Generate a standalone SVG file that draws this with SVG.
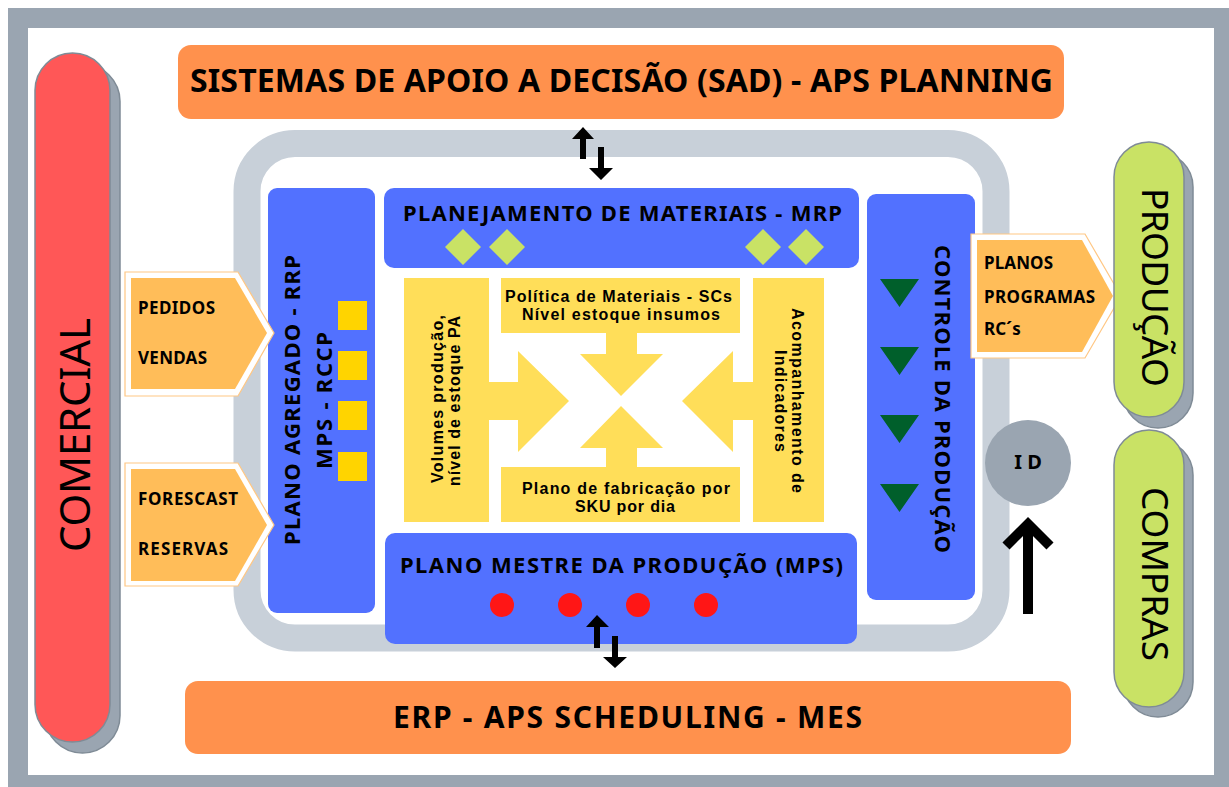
<svg xmlns="http://www.w3.org/2000/svg" width="1229" height="787" viewBox="0 0 1229 787">
<defs>
<style>
.t{font-family:"Noto Sans","Open Sans","DejaVu Sans",sans-serif;fill:#000;}
.l{font-family:"Liberation Sans",Arial,sans-serif;fill:#000;font-weight:bold;}
.b{font-weight:bold;}
.blue{fill:#5271ff;}
.org{fill:#ff914d;}
.pent{fill:#ffbd59;}
.pento{fill:#fff;stroke:#ffc784;stroke-width:1.2;}
.yel{fill:#ffde59;}
.sq{fill:#ffd400;}
.dia{fill:#c9e265;}
.tri{fill:#005f2b;}
.dot{fill:#ff1616;}
.shadow{fill:#9aa5b1;stroke:#7f8b96;stroke-width:1.5;}
.pillg{fill:#c9e265;stroke:#7f8b96;stroke-width:1.5;}
.pillr{fill:#ff5757;stroke:#7f8b96;stroke-width:1.5;}
.blk{fill:#000;}
</style>
</defs>
<rect x="0" y="0" width="1229" height="787" fill="#fff"/>
<g id="frame">
<rect x="8" y="8" width="1221" height="779" fill="#9aa5b1"/>
<rect x="28" y="28" width="1186" height="747" fill="#fff"/>
</g>
<g id="comercial">
<rect class="shadow" x="45" y="64" width="75" height="689" rx="37.5"/>
<rect class="pillr" x="35" y="53" width="75" height="689" rx="37.5"/>
<text class="t" transform="translate(90,552) rotate(-90)" font-size="42" textLength="234" lengthAdjust="spacing">COMERCIAL</text>
</g>
<g id="sad">
<rect class="org" x="178" y="45" width="886" height="74" rx="13"/>
<text class="t b" x="190" y="92" font-size="32" textLength="863" lengthAdjust="spacing">SISTEMAS DE APOIO A DECISÃO (SAD) - APS PLANNING</text>
</g>
<g id="erp">
<rect class="org" x="185" y="681" width="886" height="73" rx="13"/>
<text class="t b" x="393" y="728" font-size="30" textLength="469" lengthAdjust="spacing">ERP - APS SCHEDULING - MES</text>
</g>
<g id="ring">
<rect x="247" y="143.5" width="749" height="494.5" rx="48" fill="none" stroke="#c8d0d9" stroke-width="27"/>
</g>
<g id="plano-agregado">
<rect class="blue" x="268" y="188" width="107" height="425" rx="9"/>
<text class="t b" transform="translate(300,545) rotate(-90)" font-size="22" textLength="290" lengthAdjust="spacing">PLANO AGREGADO - RRP</text>
<text class="t b" transform="translate(332,469) rotate(-90)" font-size="22" textLength="137" lengthAdjust="spacing">MPS - RCCP</text>
<rect class="sq" x="338" y="301" width="29" height="29"/>
<rect class="sq" x="338" y="351" width="29" height="29"/>
<rect class="sq" x="338" y="401" width="29" height="29"/>
<rect class="sq" x="338" y="452" width="29" height="29"/>
</g>
<g id="mrp">
<rect class="blue" x="384" y="188" width="475" height="80" rx="10"/>
<text class="t b" x="403" y="221" font-size="22" textLength="439" lengthAdjust="spacing">PLANEJAMENTO DE MATERIAIS - MRP</text>
<path class="dia" d="M445,247 L463,229 L481,247 L463,265 Z M489,247 L507,229 L525,247 L507,265 Z M745,247 L763,229 L781,247 L763,265 Z M788,247 L806,229 L824,247 L806,265 Z"/>
</g>
<g id="mps">
<rect class="blue" x="385" y="533" width="472" height="111" rx="10"/>
<text class="t b" x="400" y="573" font-size="22" textLength="443" lengthAdjust="spacing">PLANO MESTRE DA PRODUÇÃO (MPS)</text>
<circle class="dot" cx="502" cy="605" r="12"/>
<circle class="dot" cx="570" cy="605" r="12"/>
<circle class="dot" cx="638" cy="605" r="12"/>
<circle class="dot" cx="706" cy="605" r="12"/>
</g>
<g id="controle">
<rect class="blue" x="867" y="194" width="108" height="406" rx="9"/>
<text class="t b" transform="translate(935,245) rotate(90)" font-size="22" textLength="308" lengthAdjust="spacing">CONTROLE DA PRODUÇÃO</text>
<path class="tri" d="M880,279 L919,279 L899.5,307 Z M880,347 L919,347 L899.5,375 Z M880,415 L919,415 L899.5,443 Z M880,484 L919,484 L899.5,512 Z"/>
</g>
<g id="volumes">
<rect class="yel" x="404" y="278" width="85" height="244"/>
<text class="l" transform="translate(443,483) rotate(-90)" font-size="16" textLength="168" lengthAdjust="spacing">Volumes produção,</text>
<text class="l" transform="translate(460,486) rotate(-90)" font-size="16" textLength="170" lengthAdjust="spacing">nível de estoque PA</text>
</g>
<g id="politica">
<rect class="yel" x="501" y="278" width="239" height="55"/>
<text class="l" x="505" y="302" font-size="16" textLength="227" lengthAdjust="spacing">Política de Materiais - SCs</text>
<text class="l" x="522" y="320" font-size="16" textLength="198" lengthAdjust="spacing">Nível estoque insumos</text>
</g>
<g id="plano-fabricacao">
<rect class="yel" x="501" y="467" width="239" height="55"/>
<text class="l" x="522" y="494" font-size="16" textLength="208" lengthAdjust="spacing">Plano de fabricação por</text>
<text class="l" x="575" y="512" font-size="16" textLength="100" lengthAdjust="spacing">SKU por dia</text>
</g>
<g id="acompanhamento">
<rect class="yel" x="753" y="278" width="71" height="244"/>
<text class="l" transform="translate(792,308) rotate(90)" font-size="16" textLength="185" lengthAdjust="spacing">Acompanhamento de</text>
<text class="l" transform="translate(775,350) rotate(90)" font-size="16" textLength="102" lengthAdjust="spacing">Indicadores</text>
</g>
<g id="center-arrows">
<path class="yel" d="M489,382 L518,382 L518,351 L569,401 L518,452 L518,420 L489,420 Z"/>
<path class="yel" d="M753,382 L733,382 L733,351 L682,401 L733,452 L733,420 L753,420 Z"/>
<path class="yel" d="M606,333 L637,333 L637,354 L663,354 L621,396 L580,354 L606,354 Z"/>
<path class="yel" d="M606,467 L637,467 L637,448 L663,448 L621,406 L580,448 L606,448 Z"/>
</g>
<g id="pedidos">
<path class="pento" d="M125,272 L238,272 L274,333 L238,396 L125,396 Z"/>
<path class="pent" d="M131,278 L235,278 L267,333 L235,389 L131,389 Z"/>
<text class="t b" x="138" y="314" font-size="17" textLength="77" lengthAdjust="spacing">PEDIDOS</text>
<text class="t b" x="138" y="364" font-size="17" textLength="69" lengthAdjust="spacing">VENDAS</text>
</g>
<g id="forescast">
<path class="pento" d="M125,463 L238,463 L274,525 L238,586 L125,586 Z"/>
<path class="pent" d="M131,469 L235,469 L267,525 L235,581 L131,581 Z"/>
<text class="t b" x="138" y="505" font-size="17" textLength="100" lengthAdjust="spacing">FORESCAST</text>
<text class="t b" x="138" y="555" font-size="17" textLength="90" lengthAdjust="spacing">RESERVAS</text>
</g>
<g id="planos">
<path class="pento" d="M971,234 L1085,234 L1121,296 L1085,358 L971,358 Z"/>
<path class="pent" d="M977,240 L1082,240 L1113,296 L1082,352 L977,352 Z"/>
<text class="t b" x="984" y="269" font-size="17" textLength="69" lengthAdjust="spacing">PLANOS</text>
<text class="t b" x="984" y="303" font-size="17" textLength="111" lengthAdjust="spacing">PROGRAMAS</text>
<text class="t b" x="984" y="335" font-size="17">RC´s</text>
</g>
<g id="producao">
<rect class="shadow" x="1123" y="152" width="70" height="276" rx="35"/>
<rect class="pillg" x="1114" y="142" width="70" height="275" rx="35"/>
<text class="t" transform="translate(1142,188) rotate(90)" font-size="37" textLength="199" lengthAdjust="spacing">PRODUÇÃO</text>
</g>
<g id="compras">
<rect class="shadow" x="1123" y="440" width="70" height="277" rx="35"/>
<rect class="pillg" x="1114" y="430" width="70" height="277" rx="35"/>
<text class="t" transform="translate(1142,487) rotate(90)" font-size="37" textLength="174" lengthAdjust="spacing">COMPRAS</text>
</g>
<g id="id-node">
<circle cx="1028" cy="463" r="43" fill="#9aa5b1"/>
<text class="t b" x="1028" y="469" font-size="20" text-anchor="middle">I D</text>
</g>
<g id="connectors">
<path class="blk" d="M580,159 L586,159 L586,139 L594,139 L583,127 L572,139 L580,139 Z"/>
<path class="blk" d="M598,147 L604,147 L604,168 L613,168 L601,180 L589,168 L598,168 Z"/>
<path class="blk" d="M594,648 L600,648 L600,627 L609,627 L597,615 L586,627 L594,627 Z"/>
<path class="blk" d="M612,636 L618,636 L618,657 L627,657 L615,668 L603,657 L612,657 Z"/>
<path d="M1028,614 L1028,524 M1006,546 L1028,524 L1050,546" fill="none" stroke="#000" stroke-width="10" stroke-linejoin="miter"/>
</g>
</svg>
